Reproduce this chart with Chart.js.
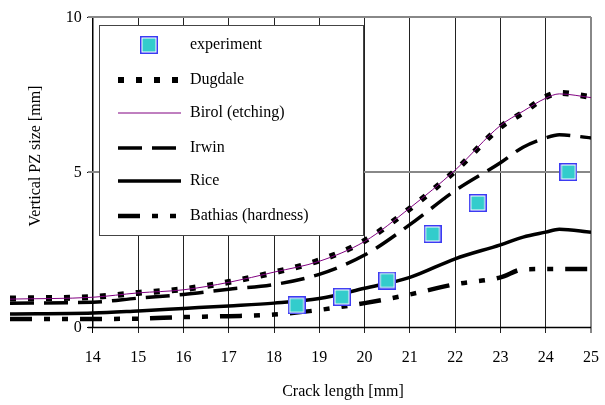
<!DOCTYPE html>
<html>
<head>
<meta charset="utf-8">
<script src="https://cdn.jsdelivr.net/npm/chart.js@4/dist/chart.umd.min.js"></script>
<style>
  html, body { margin: 0; padding: 0; background: #fff; }
  #wrap { width: 605px; height: 405px; }
</style>
</head>
<body>
<div id="wrap"><canvas id="c" width="605" height="405"></canvas></div>
<script>
/* values */
var xs      = [12.17, 14, 15, 16, 17, 18, 19, 20, 21, 22, 23, 23.5, 24, 24.3, 25];
var dugdale = [0.92, 0.97, 1.1, 1.22, 1.45, 1.76, 2.15, 2.78, 3.82, 5.04, 6.45, 6.92, 7.42, 7.55, 7.42];
var birol   = [0.9, 0.96, 1.1, 1.2, 1.44, 1.77, 2.12, 2.76, 3.84, 5.06, 6.5, 6.96, 7.38, 7.52, 7.4];
var irwin   = [0.77, 0.8, 0.93, 1.05, 1.22, 1.37, 1.7, 2.32, 3.3, 4.4, 5.3, 5.8, 6.1, 6.2, 6.1];
var rice    = [0.42, 0.45, 0.52, 0.6, 0.68, 0.77, 0.92, 1.25, 1.6, 2.2, 2.65, 2.9, 3.06, 3.15, 3.06];
var bathias = [0.26, 0.26, 0.27, 0.32, 0.35, 0.4, 0.55, 0.77, 1.05, 1.38, 1.6, 1.86, 1.87, 1.87, 1.87];
var expX    = [18.5, 19.5, 20.5, 21.5, 22.5, 24.5];
var expY    = [0.7, 0.97, 1.5, 3.0, 4.0, 5.0];
var xTicks  = [14, 15, 16, 17, 18, 19, 20, 21, 22, 23, 24, 25];
var yTicks  = [0, 5, 10];

var FONT = "'Liberation Serif', 'DejaVu Serif', serif";

function pts(xv, yv) { return xv.map(function (x, i) { return { x: x, y: yv[i] }; }); }

/* experiment marker: blue frame, white gap, cyan fill */
var mk = document.createElement('canvas');
mk.width = 18; mk.height = 18;
(function () {
  var g = mk.getContext('2d');
  g.fillStyle = '#3b3bf2'; g.fillRect(0, 0, 18, 18);
  g.fillStyle = '#ffffff'; g.fillRect(1.5, 1.5, 15, 15);
  g.fillStyle = '#33cccc'; g.fillRect(2.5, 2.5, 13, 13);
})();

var series = [
  { label: 'Dugdale', data: dugdale, color: '#000', width: 6, dash: [6, 12], order: 2 },
  { label: 'Birol (etching)', data: birol, color: '#800080', width: 1, dash: [], order: 1 },
  { label: 'Irwin', data: irwin, color: '#000', width: 3.5, dash: [24, 10], order: 3 },
  { label: 'Rice', data: rice, color: '#000', width: 3.5, dash: [], order: 4 },
  { label: 'Bathias (hardness)', data: bathias, color: '#000', width: 4.5, dash: [22, 12, 6, 12, 6, 12], order: 5 }
];

var datasets = [{
  label: 'experiment', data: pts(expX, expY), showLine: false, order: 0,
  pointStyle: mk, pointRadius: 9, pointHoverRadius: 9
}];
series.forEach(function (s) {
  datasets.push({
    label: s.label, data: pts(xs, s.data), order: s.order,
    borderColor: s.color, borderWidth: s.width, borderDash: s.dash,
    borderCapStyle: 'butt', pointRadius: 0, fill: false,
    cubicInterpolationMode: 'monotone'
  });
});

/* frame lines, gray 5/10 lines, x axis line, y labels, axis titles */
var framePlugin = {
  id: 'frame',
  beforeDatasetsDraw: function (chart) {
    var ctx = chart.ctx, x = chart.scales.x, y = chart.scales.y;
    var x0 = x.getPixelForValue(14), x1 = x.getPixelForValue(25);
    ctx.save();
    ctx.strokeStyle = '#888'; ctx.lineWidth = 2;
    [5, 10].forEach(function (v) {
      var py = Math.round(y.getPixelForValue(v));
      ctx.beginPath(); ctx.moveTo(x0 - 5, py); ctx.lineTo(x1, py); ctx.stroke();
    });
    ctx.strokeStyle = '#000'; ctx.lineWidth = 1.5;
    var pb = Math.round(y.getPixelForValue(0)) + 0.5;
    ctx.beginPath(); ctx.moveTo(x0 - 5, pb); ctx.lineTo(x1, pb); ctx.stroke();
    ctx.restore();
  },
  afterDraw: function (chart) {
    var ctx = chart.ctx, x = chart.scales.x, y = chart.scales.y;
    var x0 = x.getPixelForValue(14);
    ctx.save();
    ctx.fillStyle = '#000';
    ctx.font = '16px ' + FONT;
    ctx.textAlign = 'right'; ctx.textBaseline = 'middle';
    yTicks.forEach(function (v) {
      ctx.fillText(String(v), x0 - 11, y.getPixelForValue(v) + 1);
    });
    ctx.textAlign = 'center';
    ctx.fillText('Crack length [mm]', 343, 392);
    ctx.translate(36, 156);
    ctx.rotate(-Math.PI / 2);
    ctx.fillText('Vertical PZ size [mm]', 0, 0);
    ctx.restore();
  }
};

/* boxed legend inside the plot */
var legendPlugin = {
  id: 'boxLegend',
  afterDatasetsDraw: function (chart) {
    var ctx = chart.ctx;
    ctx.save();
    ctx.fillStyle = '#fff';
    ctx.fillRect(99, 25, 264, 210);
    ctx.strokeStyle = '#444'; ctx.lineWidth = 1;
    ctx.strokeRect(99.5, 25.5, 264, 210);
    ctx.font = '16px ' + FONT;
    ctx.fillStyle = '#000';
    ctx.textAlign = 'left'; ctx.textBaseline = 'middle';
    var rows = [45, 80, 113, 148, 181, 216];
    ctx.drawImage(mk, 140, rows[0] - 9);
    ctx.fillText('experiment', 190, rows[0]);
    series.forEach(function (s, i) {
      var ry = rows[i + 1];
      ctx.beginPath();
      ctx.strokeStyle = s.color; ctx.lineWidth = s.width;
      ctx.setLineDash(s.dash); ctx.lineCap = 'butt';
      ctx.moveTo(118, ry); ctx.lineTo(181, ry); ctx.stroke();
      ctx.setLineDash([]);
      ctx.fillStyle = '#000';
      ctx.fillText(s.label, 190, ry);
    });
    ctx.restore();
  }
};

new Chart(document.getElementById('c'), {
  type: 'line',
  data: { datasets: datasets },
  options: {
    responsive: false,
    animation: false,
    events: [],
    layout: { padding: { left: 8, right: 14, top: 17, bottom: 0 } },
    plugins: { legend: { display: false }, tooltip: { enabled: false } },
    scales: {
      x: {
        type: 'linear', min: 12.17, max: 25,
        afterBuildTicks: function (s) { s.ticks = xTicks.map(function (v) { return { value: v }; }); },
        afterFit: function (s) { s.height = 78; s.paddingLeft = 0; s.paddingRight = 0; },
        border: { display: false },
        grid: {
          drawOnChartArea: true, drawTicks: true, tickLength: 6,
          color: function (c) { return c.tick && c.tick.value === 25 ? '#888' : (c.tick && c.tick.value === 14 ? '#000' : '#222'); },
          lineWidth: function (c) { return c.tick && c.tick.value === 25 ? 2 : 1; }
        },
        ticks: { color: '#000', padding: 15, font: { family: FONT, size: 16 }, maxRotation: 0 }
      },
      y: {
        type: 'linear', min: 0, max: 10, position: { x: 14 },
        afterBuildTicks: function (s) { s.ticks = yTicks.map(function (v) { return { value: v }; }); },
        border: { display: true, color: '#000', width: 1.5 },
        grid: { drawOnChartArea: false, drawTicks: true, tickLength: 5, color: '#000' },
        ticks: { display: false }
      }
    }
  },
  plugins: [framePlugin, legendPlugin]
});
</script>
</body>
</html>
